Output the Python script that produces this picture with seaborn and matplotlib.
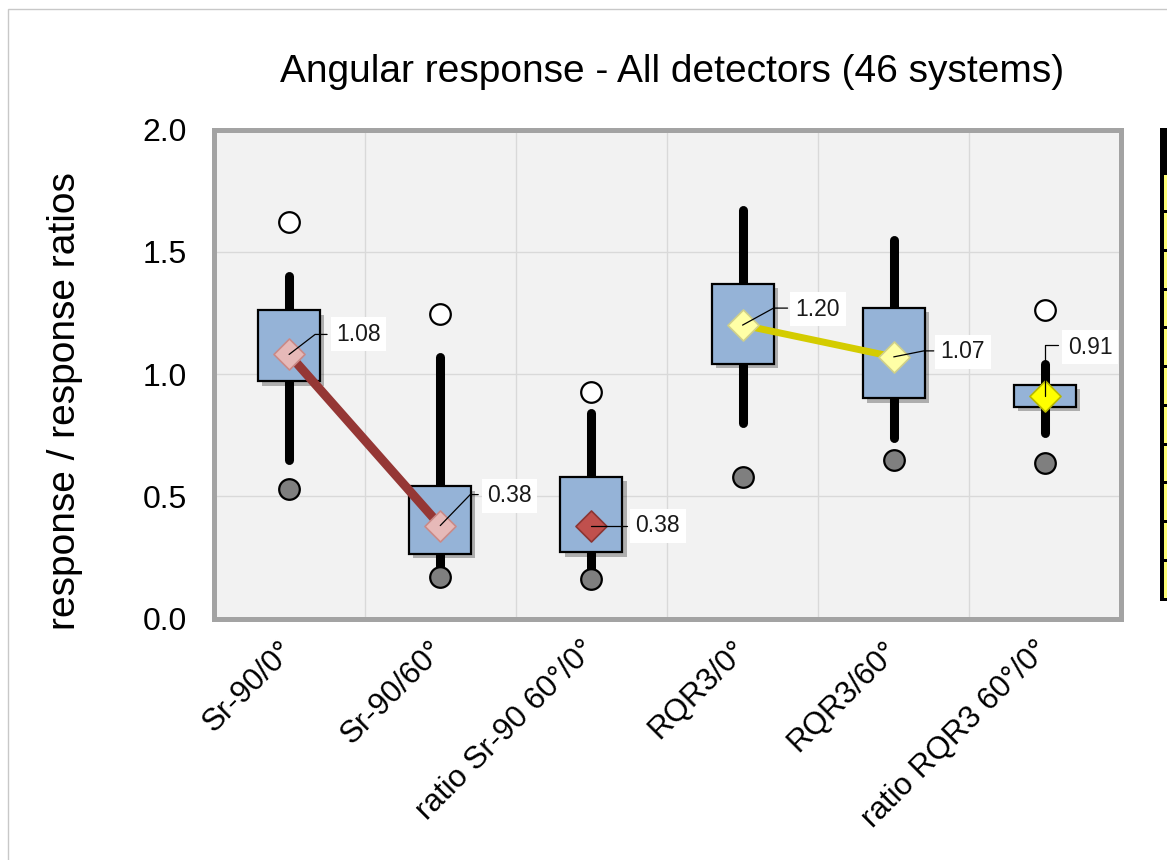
import numpy as np
import matplotlib
matplotlib.use("Agg")
import matplotlib.pyplot as plt
import matplotlib.transforms as mtransforms
from matplotlib.patches import Rectangle
from matplotlib.lines import Line2D
from matplotlib import patheffects as pe
import seaborn as sns

# ---------------- data ----------------
categories = ["Sr-90/0°", "Sr-90/60°", "ratio Sr-90 60°/0°",
              "RQR3/0°", "RQR3/60°", "ratio RQR3 60°/0°"]
means = [1.08, 0.38, 0.38, 1.20, 1.07, 0.91]
box_low = [0.97, 0.265, 0.27, 1.04, 0.90, 0.865]
box_high = [1.26, 0.54, 0.58, 1.37, 1.27, 0.955]
whisker_low = [0.65, 0.19, 0.17, 0.80, 0.74, 0.76]
whisker_high = [1.40, 1.07, 0.84, 1.67, 1.55, 1.04]
max_values = [1.62, 1.245, 0.925, np.nan, np.nan, 1.26]
min_values = [0.53, 0.17, 0.16, 0.58, 0.65, 0.635]
yticks = [0.0, 0.5, 1.0, 1.5, 2.0]
ytick_labels = ["0.0", "0.5", "1.0", "1.5", "2.0"]
title = "Angular response - All detectors (46 systems)"
ylabel = "response / response ratios"

# ---------------- styles ----------------
diamond_fill = ["#E6B9B8", "#E6B9B8", "#C0504D", "#FFFFA6", "#FFFFA6", "#FFFF00"]
diamond_edge = ["#C98A88", "#C98A88", "#8C3533", "#CFCF8A", "#CFCF8A", "#B8B800"]
# leader geometry in pixels relative to diamond (x right, y down): elbow, end, text pos
leaders = [
    dict(pts=[(26, -20), (38, -20)], text=(47, -20)),
    dict(pts=[(30, -31), (38, -31)], text=(47, -30)),
    dict(pts=[(36, 0)], text=(44, 0)),
    dict(pts=[(31, -17), (45, -17)], text=(53, -16)),
    dict(pts=[(30, -6), (40, -6)], text=(47, -5)),
    dict(pts=[(0, -51), (13, -51)], text=(23, -49)),
]

W, H = 1167, 860
sns.set_style("white")
plt.rcParams["font.family"] = ["Liberation Sans", "DejaVu Sans"]
plt.rcParams["text.color"] = "black"
plt.rcParams["xtick.color"] = "black"
plt.rcParams["ytick.color"] = "black"

fig = plt.figure(figsize=(W / 100, H / 100), dpi=100)
fig.patch.set_facecolor("white")

# outer chart border
fig.add_artist(Rectangle((8 / W, -0.05), 2, 1.05 - 9 / H, transform=fig.transFigure,
                         fill=False, edgecolor="#C8C8C8", lw=1.0))

left, right, top, bottom = 213.5, 1120.5, 129.5, 618.5
ax = fig.add_axes([left / W, 1 - bottom / H, (right - left) / W, (bottom - top) / H])
ax.set_facecolor("#F2F2F2")

xpos = np.arange(len(categories))

# whiskers
wl = ax.vlines(xpos, whisker_low, whisker_high, colors="black", lw=6.5, zorder=2)
wl.set_capstyle("round")

# boxes
bars = ax.bar(xpos, np.array(box_high) - np.array(box_low), bottom=box_low,
              width=0.41, color="#95B3D7", edgecolor="black", lw=1.6, zorder=3)
for b in bars:
    b.set_path_effects([pe.SimplePatchShadow(offset=(3, -3), shadow_rgbFace="black", alpha=0.28),
                        pe.Normal()])

# connecting lines
sns.lineplot(x=xpos[0:2], y=means[0:2], color="#953735", lw=6.5, ax=ax, zorder=4,
             solid_capstyle="butt")
sns.lineplot(x=xpos[3:5], y=means[3:5], color="#D4CC00", lw=5.0, ax=ax, zorder=4,
             solid_capstyle="butt")

# min / max circles
sns.scatterplot(x=xpos, y=max_values, marker="o", s=220, color="white",
                edgecolor="black", linewidth=1.6, ax=ax, zorder=5)
sns.scatterplot(x=xpos, y=min_values, marker="o", s=220, color="#7F7F7F",
                edgecolor="black", linewidth=1.6, ax=ax, zorder=5)

# mean diamonds
for i in range(len(categories)):
    sns.scatterplot(x=[xpos[i]], y=[means[i]], marker="D", s=250, color=diamond_fill[i],
                    edgecolor=diamond_edge[i], linewidth=1.2, ax=ax, zorder=6)

ax.set_xlim(-0.5, 5.5)
ax.set_ylim(0, 2)
ax.set_xlabel("")
ax.set_ylabel("")

ax.set_yticks(yticks)
ax.set_yticklabels(ytick_labels, fontsize=23, color="black")
ax.set_xticks(xpos)
ax.set_xticklabels(categories, rotation=45, ha="right", va="top",
                   rotation_mode="anchor", fontsize=22.5, color="black")
ax.set_xticks(np.arange(0.5, 5.5, 1), minor=True)
ax.tick_params(axis="both", which="both", length=0)
ax.tick_params(axis="y", pad=19)
ax.tick_params(axis="x", pad=12)
offs = mtransforms.ScaledTranslation(-11 / 100, 0, fig.dpi_scale_trans)
for lab in ax.get_xticklabels():
    lab.set_transform(lab.get_transform() + offs)

ax.grid(False)
ax.grid(True, which="minor", axis="x", color="#D9D9D9", lw=1.0, zorder=0)
ax.grid(True, which="major", axis="y", color="#D9D9D9", lw=1.0, zorder=0)
ax.set_axisbelow(True)
for s in ax.spines.values():
    s.set_visible(True)
    s.set_color("#A3A3A3")
    s.set_linewidth(3.6)

# value labels with leaders
fig.canvas.draw()
ident = mtransforms.IdentityTransform()
for i, m in enumerate(means):
    x0, y0 = ax.transData.transform((xpos[i], m))
    xs = [x0] + [x0 + p[0] for p in leaders[i]["pts"]]
    ys = [y0] + [y0 - p[1] for p in leaders[i]["pts"]]
    ax.add_line(Line2D(xs, ys, transform=ident, color="black", lw=0.9, zorder=7, clip_on=False))
    tx, ty = leaders[i]["text"]
    ax.text(x0 + tx, y0 - ty, f"{m:.2f}", transform=ident, ha="left", va="center",
            fontsize=16.5, color="#1A1A1A", zorder=8,
            bbox=dict(facecolor="white", edgecolor="none", pad=4))

# title & y label
fig.text(672 / W, 1 - 72 / H, title, ha="center", va="center", fontsize=28, color="black")
fig.text(65 / W, 1 - 401 / H, ylabel, ha="center", va="center", rotation=90,
         fontsize=28, color="black")

# partially visible table at right edge
tab_l, tab_top, tab_bot = 1160, 128, 601
fig.add_artist(Rectangle((tab_l / W, 1 - tab_bot / H), 20 / W, (tab_bot - tab_top) / H,
                         transform=fig.transFigure, facecolor="black", edgecolor="none"))
row_top = 173
nrows = 11
rh = (tab_bot - 2 - row_top) / nrows
for r in range(nrows):
    y1 = row_top + r * rh + 1.5
    y2 = row_top + (r + 1) * rh - 1.5
    fig.add_artist(Rectangle((1164 / W, 1 - y2 / H), 20 / W, (y2 - y1) / H,
                             transform=fig.transFigure, facecolor="#FFFF77", edgecolor="none"))

fig.savefig("out.png", dpi=100)
